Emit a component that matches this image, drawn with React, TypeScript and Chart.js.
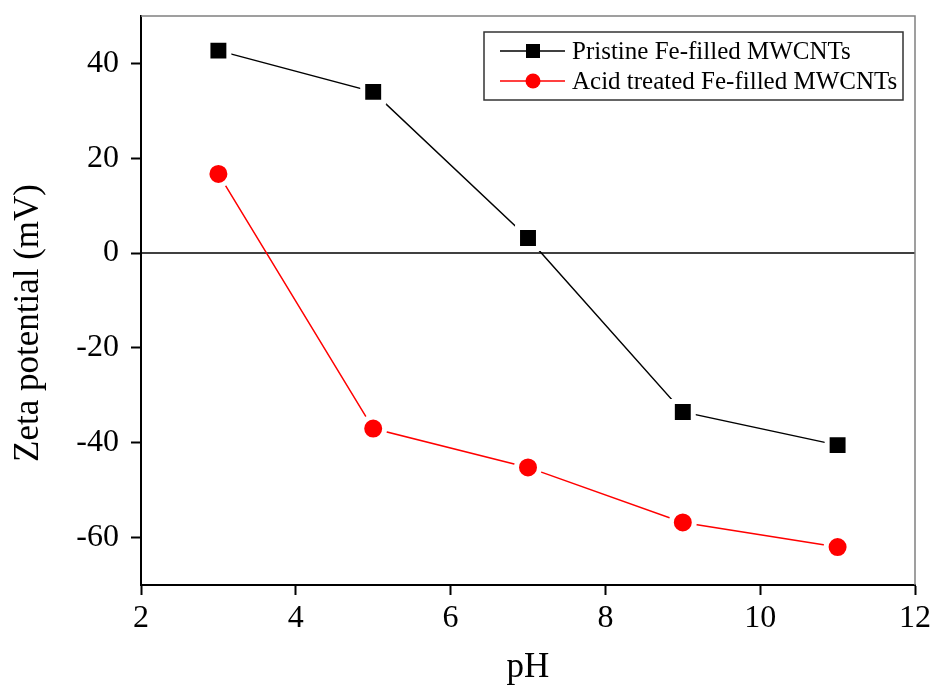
import React, { useEffect, useRef } from "react";
import { Chart, registerables } from "chart.js";
Chart.register(...registerables);

const phValues = [3, 5, 7, 9, 11];
const pristineZeta = [42.7, 34.0, 3.2, -33.5, -40.5];
const acidZeta = [16.7, -37.0, -45.2, -56.8, -62.0];
const xTicks = [2, 4, 6, 8, 10, 12];
const yTicks = [-60, -40, -20, 0, 20, 40];
const seriesLabels = ["Pristine Fe-filled MWCNTs", "Acid treated Fe-filled MWCNTs"];
const xTitle = "pH";
const yTitle = "Zeta potential (mV)";

const FONT = '"Liberation Serif", "Times New Roman", serif';

const framePlugin = {
  id: "frame",
  beforeDatasetsDraw(chart: any) {
    const { ctx, chartArea, scales } = chart;
    const y0 = scales.y.getPixelForValue(0);
    ctx.save();
    ctx.strokeStyle = "#000";
    ctx.lineWidth = 1.5;
    ctx.beginPath();
    ctx.moveTo(chartArea.left, y0);
    ctx.lineTo(chartArea.right, y0);
    ctx.stroke();
    ctx.strokeStyle = "#808080";
    ctx.lineWidth = 1.5;
    ctx.beginPath();
    ctx.moveTo(chartArea.left, chartArea.top);
    ctx.lineTo(chartArea.right, chartArea.top);
    ctx.lineTo(chartArea.right, chartArea.bottom);
    ctx.stroke();
    ctx.restore();
  },
  afterDraw(chart: any) {
    const { ctx, chartArea } = chart;
    ctx.save();
    ctx.fillStyle = "#000";
    ctx.font = `35px ${FONT}`;
    ctx.textAlign = "center";
    ctx.textBaseline = "alphabetic";
    ctx.fillText(xTitle, (chartArea.left + chartArea.right) / 2, 677);
    ctx.save();
    ctx.translate(38, 323);
    ctx.rotate(-Math.PI / 2);
    ctx.fillText(yTitle, 0, 0);
    ctx.restore();
    const bx = 484, by = 32, bw = 419, bh = 68;
    ctx.fillStyle = "#fff";
    ctx.fillRect(bx, by, bw, bh);
    ctx.strokeStyle = "#333";
    ctx.lineWidth = 1.5;
    ctx.strokeRect(bx, by, bw, bh);
    const rows = [51, 81];
    chart.data.datasets.forEach((ds: any, i: number) => {
      const y = rows[i];
      ctx.strokeStyle = ds.borderColor;
      ctx.lineWidth = 1.5;
      ctx.beginPath();
      ctx.moveTo(500, y);
      ctx.lineTo(565, y);
      ctx.stroke();
      ctx.fillStyle = ds.pointBackgroundColor;
      if (ds.pointStyle === "rect") {
        ctx.fillRect(533 - 7, y - 7, 14, 14);
      } else {
        ctx.beginPath();
        ctx.arc(533, y, 7.5, 0, Math.PI * 2);
        ctx.fill();
      }
      ctx.fillStyle = "#000";
      ctx.font = `25px ${FONT}`;
      ctx.textBaseline = "middle";
      ctx.textAlign = "left";
      ctx.fillText(ds.label, 572, y + 1);
    });
    ctx.restore();
  },
};

export default function App() {
  const ref = useRef<HTMLCanvasElement>(null);
  useEffect(() => {
    const chart = new Chart(ref.current!, {
      type: "line",
      data: {
        datasets: [
          {
            label: seriesLabels[0],
            data: phValues.map((x, i) => ({ x, y: pristineZeta[i] })),
            borderColor: "#000",
            borderWidth: 1.5,
            pointStyle: "rect",
            pointRadius: 14.8,
            pointBackgroundColor: "#000",
            pointBorderColor: "#fff",
            pointBorderWidth: 5,
          },
          {
            label: seriesLabels[1],
            data: phValues.map((x, i) => ({ x, y: acidZeta[i] })),
            borderColor: "#ff0000",
            borderWidth: 1.5,
            pointStyle: "circle",
            pointRadius: 11.5,
            pointBackgroundColor: "#ff0000",
            pointBorderColor: "#fff",
            pointBorderWidth: 5,
          },
        ],
      },
      options: {
        animation: false,
        responsive: false,
        layout: { autoPadding: false, padding: { top: 16, right: 18, left: 0, bottom: 0 } },
        plugins: { legend: { display: false }, tooltip: { enabled: false } },
        scales: {
          x: {
            type: "linear",
            min: 2,
            max: 12,
            afterBuildTicks: (s: any) => { s.ticks = xTicks.map((v) => ({ value: v })); },
            afterFit: (s: any) => { s.height = 106; s.paddingLeft = 0; s.paddingRight = 0; },
            grid: { drawOnChartArea: false, tickLength: 10, tickWidth: 2, tickColor: "#000" },
            border: { color: "#000", width: 2 },
            ticks: { color: "#000", font: { family: FONT, size: 32 }, padding: 4, maxRotation: 0 },
          },
          y: {
            type: "linear",
            min: -70,
            max: 50,
            afterBuildTicks: (s: any) => { s.ticks = yTicks.map((v) => ({ value: v })); },
            afterFit: (s: any) => { s.width = 141; s.paddingTop = 0; s.paddingBottom = 0; },
            grid: { drawOnChartArea: false, tickLength: 10, tickWidth: 2, tickColor: "#000" },
            border: { color: "#000", width: 2 },
            ticks: { color: "#000", font: { family: FONT, size: 32 }, padding: 12 },
          },
        },
      },
      plugins: [framePlugin],
    } as any);
    return () => chart.destroy();
  }, []);
  return (
    <div style={{ position: "fixed", left: 0, top: 0, width: 933, height: 691, background: "#fff" }}>
      <canvas ref={ref} width={933} height={691} />
    </div>
  );
}
